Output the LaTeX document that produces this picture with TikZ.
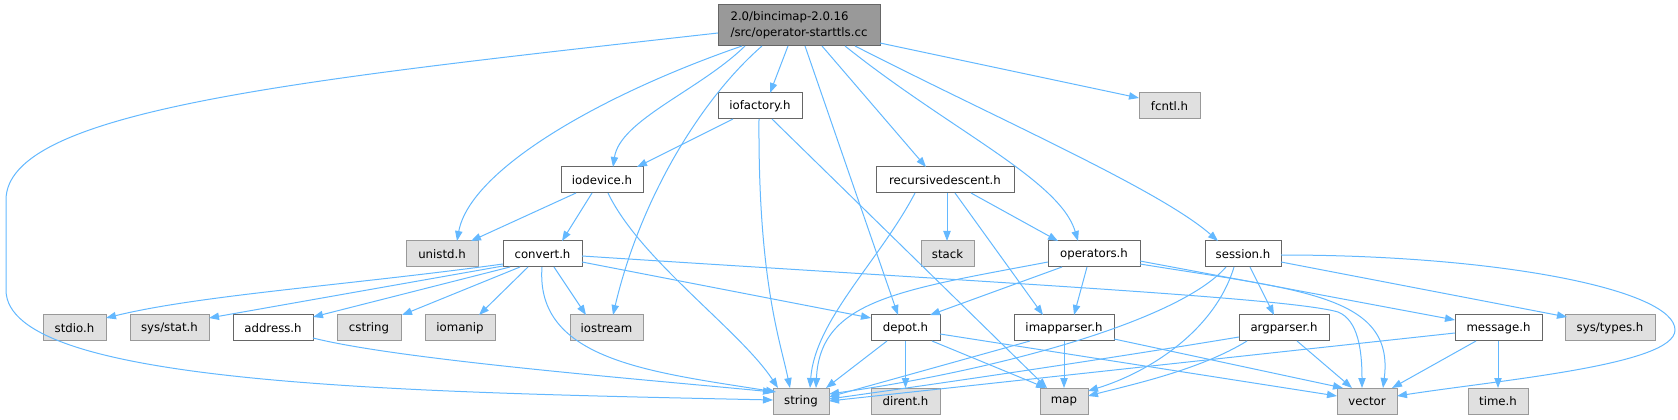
\documentclass[tikz,border=0pt]{standalone}
\usepackage{fontspec}
\setmainfont{DejaVu Sans}
\usetikzlibrary{arrows.meta}
\definecolor{edgec}{HTML}{63B8FF}
\definecolor{rootfill}{HTML}{999999}
\definecolor{rootdraw}{HTML}{666666}
\definecolor{extfill}{HTML}{E0E0E0}
\definecolor{extdraw}{HTML}{999999}
\begin{document}
\begin{tikzpicture}[x=0.75pt,y=-0.75pt,
  base/.style={rectangle, inner sep=0pt, minimum height=19.5pt, font=\fontsize{8.8}{12}\selectfont, line width=0.75pt},
  locbox/.style={base, draw=rootdraw, fill=white},
  extbox/.style={base, draw=extdraw, fill=extfill},
  rootbox/.style={base, draw=rootdraw, fill=rootfill, minimum height=30.75pt, align=left},
  wd/.style={minimum width=#1*0.75pt},
  dep/.style={draw=edgec, line width=0.75pt, -{Triangle[length=7.5pt,width=5.5pt]}}]
\useasboundingbox (0,0) rectangle (1678,420);
% nodes
\node[rootbox, wd=162] (root) at (799,25.5) {2.0/bincimap-2.0.16\\/src/operator-starttls.cc};
\node[locbox, wd=84] (iofac) at (760,106) {iofactory.h};
\node[extbox, wd=61] (fcntl) at (1169.5,106) {fcntl.h};
\node[locbox, wd=82] (iodev) at (602,180) {iodevice.h};
\node[locbox, wd=138] (recd) at (945,180) {recursivedescent.h};
\node[extbox, wd=72] (unistd) at (442,254) {unistd.h};
\node[locbox, wd=79] (convert) at (542.5,254) {convert.h};
\node[extbox, wd=53] (stack) at (947.5,254) {stack};
\node[locbox, wd=92] (oper) at (1094,254) {operators.h};
\node[locbox, wd=76] (session) at (1243,254) {session.h};
\node[extbox, wd=63] (stdio) at (74.5,328) {stdio.h};
\node[extbox, wd=79] (sysstat) at (169.5,328) {sys/stat.h};
\node[locbox, wd=80] (address) at (273,328) {address.h};
\node[extbox, wd=64] (cstring) at (369,328) {cstring};
\node[extbox, wd=70] (iomanip) at (460,328) {iomanip};
\node[extbox, wd=73] (iostream) at (606.5,328) {iostream};
\node[locbox, wd=69] (depot) at (905.5,328) {depot.h};
\node[locbox, wd=100] (imap) at (1064,328) {imapparser.h};
\node[locbox, wd=90] (argp) at (1284,328) {argparser.h};
\node[locbox, wd=87] (message) at (1498.5,328) {message.h};
\node[extbox, wd=90] (systypes) at (1610,328) {sys/types.h};
\node[extbox, wd=56] (string) at (801,401) {string};
\node[extbox, wd=69] (dirent) at (905.5,401) {dirent.h};
\node[extbox, wd=48] (map) at (1064,401) {map};
\node[extbox, wd=60] (vector) at (1367,401) {vector};
\node[extbox, wd=60] (time) at (1498,401) {time.h};
% edges from root
\draw[dep] ([shift={(-81,7.5)}]root.center) .. controls (300,80) and (6,110) .. (6,200) -- (6,290) .. controls (6,385) and (400,392) .. ([shift={(-28,-1)}]string.center);
\draw[dep] ([shift={(-57,20.5)}]root.center) .. controls (600,95) and (470,170) .. ([shift={(15,-13)}]unistd.center);
\draw[dep] ([shift={(-54,20.5)}]root.center) .. controls (700,90) and (620,120) .. ([shift={(11,-13)}]iodev.center);
\draw[dep] ([shift={(-37,20.5)}]root.center) .. controls (700,100) and (640,200) .. ([shift={(6.5,-13)}]iostream.center);
\draw[dep] ([shift={(-11,20.5)}]root.center) -- ([shift={(10,-13)}]iofac.center);
\draw[dep] ([shift={(6,20.5)}]root.center) -- ([shift={(-7.5,-13)}]depot.center);
\draw[dep] ([shift={(23,20.5)}]root.center) -- ([shift={(-19,-13)}]recd.center);
\draw[dep] ([shift={(46,20.5)}]root.center) .. controls (950,130) and (1060,180) .. ([shift={(-16,-13)}]oper.center);
\draw[dep] ([shift={(56,20.5)}]root.center) .. controls (1000,120) and (1160,190) .. ([shift={(-25,-13)}]session.center);
\draw[dep] ([shift={(81,17.5)}]root.center) -- ([shift={(-30.5,-8)}]fcntl.center);
% iofactory
\draw[dep] ([shift={(-27,13)}]iofac.center) -- ([shift={(35,-13)}]iodev.center);
\draw[dep] ([shift={(-1,13)}]iofac.center) .. controls (758,280) and (780,340) .. ([shift={(-11,-13)}]string.center);
\draw[dep] ([shift={(12,13)}]iofac.center) -- ([shift={(-17,-13)}]map.center);
% iodevice
\draw[dep] ([shift={(-26,13)}]iodev.center) -- ([shift={(29,-13)}]unistd.center);
\draw[dep] ([shift={(-10,13)}]iodev.center) -- ([shift={(19.5,-13)}]convert.center);
\draw[dep] ([shift={(6,13)}]iodev.center) .. controls (640,260) and (740,330) .. ([shift={(-23,-13)}]string.center);
% convert
\draw[dep] ([shift={(-39.5,10)}]convert.center) .. controls (350,285) and (200,295) .. ([shift={(31.5,-10)}]stdio.center);
\draw[dep] ([shift={(-39.5,12)}]convert.center) -- ([shift={(39.5,-10)}]sysstat.center);
\draw[dep] ([shift={(-32.5,13)}]convert.center) -- ([shift={(40,-11)}]address.center);
\draw[dep] ([shift={(-22.5,13)}]convert.center) -- ([shift={(33,-13)}]cstring.center);
\draw[dep] ([shift={(-14.5,13)}]convert.center) -- ([shift={(19,-13)}]iomanip.center);
\draw[dep] ([shift={(11.5,13)}]convert.center) -- ([shift={(-20.5,-13)}]iostream.center);
\draw[dep] ([shift={(-0.5,13)}]convert.center) .. controls (535,360) and (650,372) .. ([shift={(-25,-9)}]string.center);
\draw[dep] ([shift={(39.5,8)}]convert.center) -- ([shift={(-34.5,-10)}]depot.center);
\draw[dep] ([shift={(39.5,2)}]convert.center) .. controls (1000,283) and (1290,298) .. (1338,312) .. controls (1358,320) and (1362,350) .. ([shift={(-5,-13)}]vector.center);
% address
\draw[dep] ([shift={(40,10)}]address.center) .. controls (400,360) and (650,380) .. ([shift={(-28,-9)}]string.center);
% recursivedescent
\draw[dep] ([shift={(2,13)}]recd.center) -- ([shift={(-0.5,-13)}]stack.center);
\draw[dep] ([shift={(26,13)}]recd.center) -- ([shift={(-36,-13)}]oper.center);
\draw[dep] ([shift={(10,13)}]recd.center) -- ([shift={(-21,-13)}]imap.center);
\draw[dep] ([shift={(-30,13)}]recd.center) .. controls (880,260) and (815,320) .. ([shift={(9,-13)}]string.center);
% operators
\draw[dep] ([shift={(-46,8)}]oper.center) .. controls (900,290) and (820,300) .. ([shift={(15,-13)}]string.center);
\draw[dep] ([shift={(-32,13)}]oper.center) -- ([shift={(24.5,-13)}]depot.center);
\draw[dep] ([shift={(-7,13)}]oper.center) -- ([shift={(10,-13)}]imap.center);
\draw[dep] ([shift={(46,7)}]oper.center) -- ([shift={(-43.5,-8)}]message.center);
\draw[dep] ([shift={(46,10)}]oper.center) .. controls (1300,290) and (1395,295) .. ([shift={(16,-13)}]vector.center);
% session
\draw[dep] ([shift={(-17,13)}]session.center) .. controls (1180,320) and (1000,370) .. ([shift={(28,-7)}]string.center);
\draw[dep] ([shift={(-9,13)}]session.center) .. controls (1215,330) and (1150,372) .. ([shift={(24,-10)}]map.center);
\draw[dep] ([shift={(7,13)}]session.center) -- ([shift={(-10,-13)}]argp.center);
\draw[dep] ([shift={(38,8)}]session.center) -- ([shift={(-43,-11)}]systypes.center);
\draw[dep] ([shift={(38,1)}]session.center) .. controls (1500,255) and (1675,290) .. (1675,330) .. controls (1675,365) and (1500,380) .. ([shift={(30,-5)}]vector.center);
% depot
\draw[dep] ([shift={(-18.5,13)}]depot.center) -- ([shift={(25,-13)}]string.center);
\draw[dep] ([shift={(0,13)}]depot.center) -- ([shift={(0,-13)}]dirent.center);
\draw[dep] ([shift={(26.5,13)}]depot.center) -- ([shift={(-18,-13)}]map.center);
\draw[dep] ([shift={(34.5,6)}]depot.center) -- ([shift={(-30,-5)}]vector.center);
% imapparser
\draw[dep] ([shift={(-34,13)}]imap.center) -- ([shift={(28,-4)}]string.center);
\draw[dep] ([shift={(0,13)}]imap.center) -- ([shift={(0,-13)}]map.center);
\draw[dep] ([shift={(50,11)}]imap.center) -- ([shift={(-24,-13)}]vector.center);
% argparser
\draw[dep] ([shift={(-45,9)}]argp.center) .. controls (1100,360) and (950,382) .. ([shift={(28,-2)}]string.center);
\draw[dep] ([shift={(-37,13)}]argp.center) .. controls (1200,370) and (1130,385) .. ([shift={(24,-5)}]map.center);
\draw[dep] ([shift={(13,13)}]argp.center) -- ([shift={(-15,-13)}]vector.center);
% message
\draw[dep] ([shift={(-43.5,5)}]message.center) -- ([shift={(28,0)}]string.center);
\draw[dep] ([shift={(-22.5,13)}]message.center) -- ([shift={(25,-13)}]vector.center);
\draw[dep] ([shift={(-0.5,13)}]message.center) -- ([shift={(0,-13)}]time.center);
\end{tikzpicture}
\end{document}
